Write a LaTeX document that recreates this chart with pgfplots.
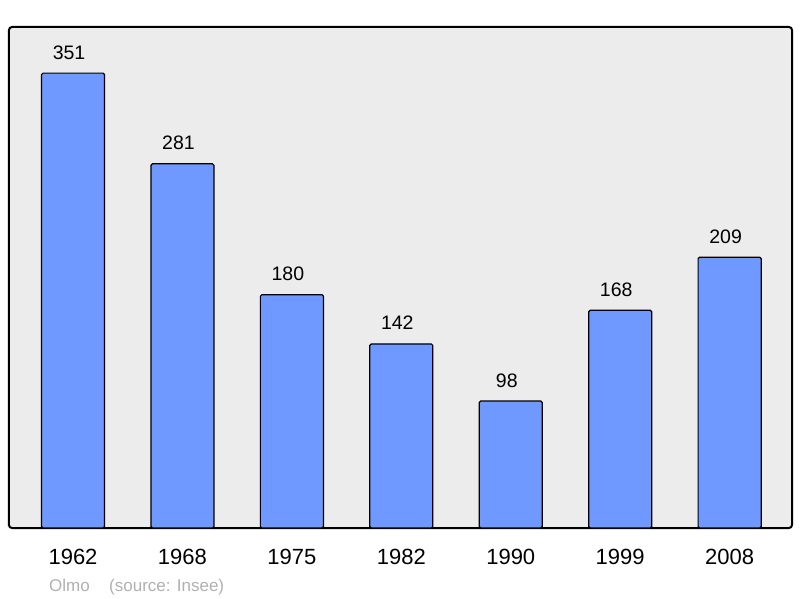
\documentclass[border=0pt]{standalone}
\usepackage{pgfplots}
\pgfplotsset{compat=1.18}
\usepackage{fontspec}
\setmainfont{Liberation Sans}
\definecolor{barblue}{RGB}{112,153,255}
\definecolor{bg}{RGB}{236,236,236}
\definecolor{srcgray}{RGB}{176,176,176}
\begin{document}
\begin{tikzpicture}[x=1pt,y=1pt]
\path[use as bounding box] (0,0) rectangle (800,598);
\begin{axis}[at={(9pt,70pt)}, anchor=south west, scale only axis,
  width=783pt, height=501pt,
  xmin=-0.585, xmax=6.57, ymin=0, ymax=386.6,
  /pgf/number format/assume math mode=true,
  axis background/.style={fill=bg, rounded corners=3pt},
  axis line style={line width=2pt, rounded corners=3pt},
  ybar, bar width=0.576, bar shift=0pt,
  xtick={0,...,6}, xticklabels={1962,1968,1975,1982,1990,1999,2008},
  major tick length=0pt, ytick=\empty,
  xticklabel style={font=\fontsize{22}{24}\selectfont, anchor=base, yshift=-36pt},
  nodes near coords,
  nodes near coords style={font=\fontsize{19.5}{21}\selectfont, anchor=base, yshift=14pt, xshift=-4pt, text=black},
  clip=false,
]
\addplot[fill=barblue, draw=black, line width=1.2pt, rounded corners=1.5pt]
  coordinates {(0,351) (1,281) (2,180) (3,142) (4,98) (5,168) (6,209)};
\end{axis}
\node[anchor=base west, inner sep=0pt, text=srcgray, font=\fontsize{17}{19}\selectfont] at (49,7) {Olmo};
\node[anchor=base west, inner sep=0pt, text=srcgray, font=\fontsize{17}{19}\selectfont] at (109,7) {(source: Insee)};
\end{tikzpicture}
\end{document}
